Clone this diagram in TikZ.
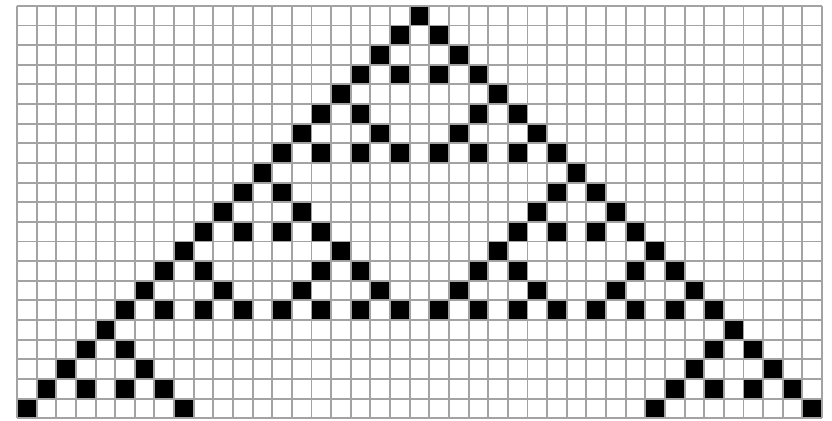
\documentclass[tikz,border=0pt]{standalone}
\usepackage{tikz}

\begin{document}
\begin{tikzpicture}[
      x=0.5cm, y=0.5cm,
      gridline/.style={draw=black!36, line width=1.4pt, step=0.5cm},
      cell/.style={fill=black}
    ]
      % frame of the page
      \fill[white] (-0.866,-21.1) rectangle (41.51,0.3);
      \useasboundingbox (-0.866,-21.1) rectangle (41.51,0.3);
      % rule 90 from one cell in the middle
      \foreach \r in {0,...,20}{
        \foreach \k in {0,...,\r}{
          \pgfmathtruncatemacro{\m}{\r-\k}
          \pgfmathtruncatemacro{\hit}{mod(\k,2)*mod(\m,2)+mod(div(\k,2),2)*mod(div(\m,2),2)+mod(div(\k,4),2)*mod(div(\m,4),2)+mod(div(\k,8),2)*mod(div(\m,8),2)+mod(div(\k,16),2)*mod(div(\m,16),2)}
          \pgfmathtruncatemacro{\c}{20-\r+2*\k}
          \ifnum\hit=0
            \fill[cell] (\c,-\r) rectangle ++(1,-1);
          \fi
        }
      }
      % lattice
      \draw[gridline] (0,-21) grid (41,0);
    \end{tikzpicture}
\end{document}
